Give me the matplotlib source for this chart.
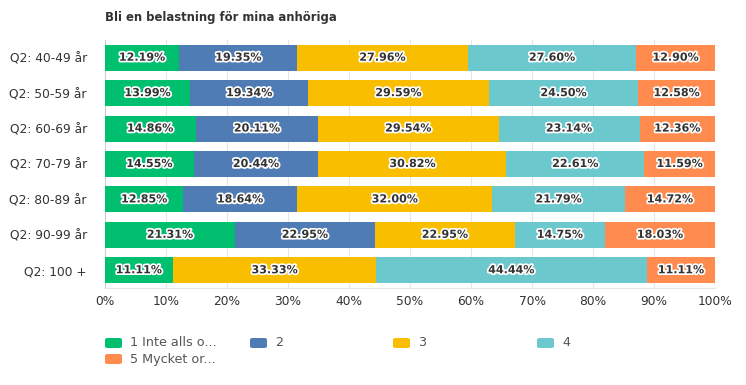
import numpy as np
import matplotlib.pyplot as plt
import matplotlib.patheffects as pe
from matplotlib.patches import FancyBboxPatch

plt.rcParams['font.family'] = 'DejaVu Sans'

title = 'Bli en belastning för mina anhöriga'
groups = ['Q2: 40-49 år', 'Q2: 50-59 år', 'Q2: 60-69 år', 'Q2: 70-79 år',
          'Q2: 80-89 år', 'Q2: 90-99 år', 'Q2: 100 +']
series = ['1 Inte alls o...', '2', '3', '4', '5 Mycket or...']
s1 = [12.19, 13.99, 14.86, 14.55, 12.85, 21.31, 11.11]
s2 = [19.35, 19.34, 20.11, 20.44, 18.64, 22.95, 0.0]
s3 = [27.96, 29.59, 29.54, 30.82, 32.00, 22.95, 33.33]
s4 = [27.60, 24.50, 23.14, 22.61, 21.79, 14.75, 44.44]
s5 = [12.90, 12.58, 12.36, 11.59, 14.72, 18.03, 11.11]
colors = ['#00bf6f', '#507cb6', '#f9be00', '#6bc8cd', '#ff8b4f']
xticks = np.arange(0, 101, 10)

fig = plt.figure(figsize=(7.46, 3.85), dpi=100)
ax = fig.add_axes([105/746, 1-288/385, 610/746, 248/385])

y = np.arange(len(groups))
left = np.zeros(len(groups))
for vals, c in zip([s1, s2, s3, s4, s5], colors):
    vals = np.array(vals)
    ax.barh(y, vals, left=left, height=0.73, color=c, zorder=3)
    for yi, l, v in zip(y, left, vals):
        if v > 0:
            ax.text(l + v/2, yi, f'{v:.2f}%', ha='center', va='center',
                    fontsize=8, fontweight='bold', color='#333333', zorder=4,
                    path_effects=[pe.withStroke(linewidth=2.5, foreground='white')])
    left += vals

ax.set_xlim(0, 100)
ax.set_ylim(len(groups) - 0.5, -0.5)
ax.set_yticks(y)
ax.set_yticklabels(groups, fontsize=8.8, color='#333333')
ax.set_xticks(xticks)
ax.set_xticklabels([f'{t}%' for t in xticks], fontsize=8.8, color='#333333')
ax.tick_params(length=0)
ax.tick_params(axis='x', pad=5)
ax.tick_params(axis='y', pad=13)
ax.grid(axis='x', color='#e6e6e6', lw=0.8, zorder=0)
for s in ['top', 'right']:
    ax.spines[s].set_visible(False)
ax.spines['left'].set_color('#d0d0d0')
ax.spines['bottom'].set_color('#e6e6e6')

fig.text(105/746, 1-17/385, title, fontsize=8.4, fontweight='bold',
         color='#333333', va='center', ha='left')

# legend
col_x = [105, 250, 393, 537]
row_y = [343, 359]
for i, (lab, c) in enumerate(zip(series, colors)):
    cx = col_x[i % 4]
    cy = row_y[i // 4]
    fig.add_artist(FancyBboxPatch(((cx)/746, 1-(cy+5)/385), 17/746, 10/385,
                                  boxstyle='round,pad=0,rounding_size=0.004',
                                  transform=fig.transFigure, fc=c, ec='none'))
    fig.text((cx+25)/746, 1-cy/385, lab, fontsize=9.2, color='#555555',
             va='center', ha='left')

fig.savefig('out.png', dpi=100)
